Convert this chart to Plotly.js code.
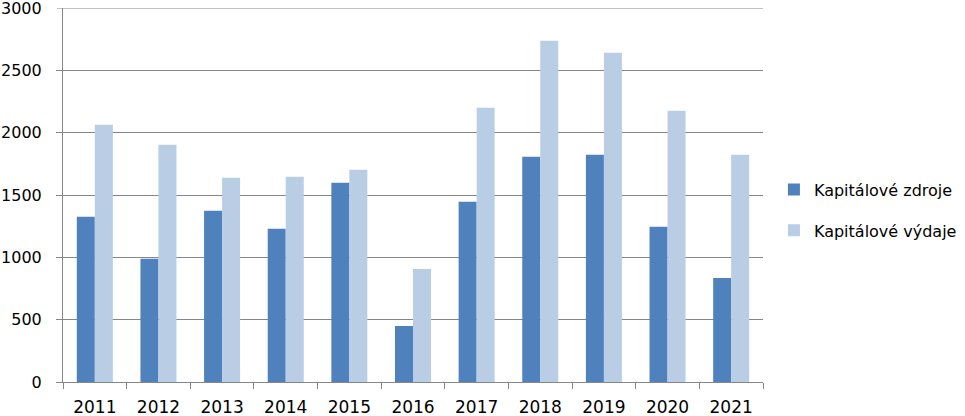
<!DOCTYPE html>
<html>
<head>
<meta charset="utf-8">
<script src="https://cdn.plot.ly/plotly-3.0.1.min.js"></script>
<style>html,body{margin:0;padding:0;background:#fff;}#chart{width:965px;height:416px;}</style>
</head>
<body>
<div id="chart"></div>
<script>
const years = ["2011","2012","2013","2014","2015","2016","2017","2018","2019","2020","2021"];
const zdroje = [1325, 988, 1373, 1229, 1598, 450, 1445, 1807, 1823, 1245, 835];
const vydaje = [2064, 1903, 1638, 1646, 1702, 907, 2200, 2738, 2642, 2176, 1823];
const seriesNames = ["Kapitálové zdroje", "Kapitálové výdaje"];
const yTicks = [0, 500, 1000, 1500, 2000, 2500];
const yTop = 3000;

const xFont = {family: "DejaVu Sans", size: 17, color: "#000"};
const yFont = {family: "DejaVu Sans", size: 16, color: "#000"};
const traces = [
  {type: "bar", x: years, y: zdroje, name: seriesNames[0], legendgroup: "a",
   marker: {color: "#4F81BD"}, hoverinfo: "x+y"},
  {type: "bar", x: years, y: vydaje, name: seriesNames[1], legendgroup: "b",
   marker: {color: "#B9CDE5"}, hoverinfo: "x+y"}
];
const layout = {
  width: 965, height: 416,
  margin: {l: 63, r: 202, t: 8, b: 34},
  paper_bgcolor: "#fff", plot_bgcolor: "#fff",
  font: {family: "DejaVu Sans", size: 16, color: "#000"},
  barmode: "group", bargap: 0.434, bargroupgap: 0,
  showlegend: true,
  legend: {xref: "container", yref: "container", x: 0.802, xanchor: "left",
           y: 0.495, yanchor: "middle",
           font: {family: "DejaVu Sans", size: 16, color: "#000"},
           tracegroupgap: 17, traceorder: "grouped", itemwidth: 30},
  xaxis: {type: "category", tickson: "boundaries", ticks: "outside", ticklen: 6,
          tickcolor: "#868686", showline: true, linecolor: "#868686", linewidth: 1,
          showgrid: false, tickfont: xFont, ticklabelstandoff: 10, fixedrange: true},
  yaxis: {range: [0, yTop], tickvals: yTicks, ticktext: yTicks.map(String),
          ticks: "outside", ticklen: 6, tickcolor: "#868686",
          showline: true, linecolor: "#868686", linewidth: 1,
          showgrid: true, gridcolor: "#868686", gridwidth: 1, zeroline: false,
          tickfont: yFont, ticklabelstandoff: 11, fixedrange: true},
  shapes: [{type: "line", xref: "paper", yref: "y", x0: -6/700, x1: 1, y0: yTop, y1: yTop,
            line: {color: "#868686", width: 1}, layer: "below"}],
  annotations: [{xref: "paper", yref: "y", x: 0, y: yTop, text: String(yTop),
                 showarrow: false, xanchor: "right", yanchor: "middle", xshift: -19,
                 font: yFont}]
};
Plotly.newPlot("chart", traces, layout, {displayModeBar: false, staticPlot: true});
</script>
</body>
</html>
